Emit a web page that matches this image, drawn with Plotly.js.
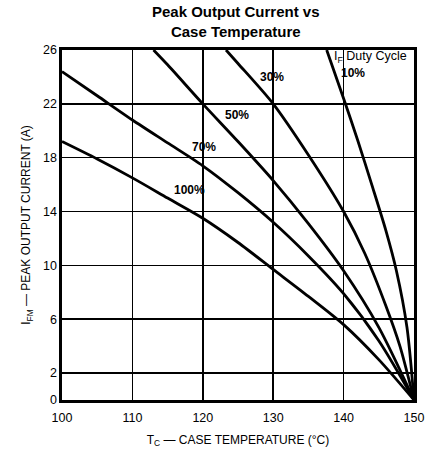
<!DOCTYPE html>
<html>
<head>
<meta charset="utf-8">
<script src="https://cdn.plot.ly/plotly-3.0.1.min.js"></script>
<style>html,body{margin:0;padding:0;background:#fff;}#chart{width:434px;height:450px;}</style>
</head>
<body>
<div id="chart"></div>
<script>
// Case temperature (°C) and peak output current (A) per duty cycle
const t100 = [100, 105, 110, 115, 120, 125, 130, 135, 140, 145, 150];
const i100 = [19.2, 17.9, 16.5, 15.0, 13.5, 11.7, 9.7, 7.7, 5.6, 3.0, 0];
const t70 = [100, 105, 110, 115, 120, 125, 130, 135, 140, 145, 150];
const i70 = [24.4, 22.6, 20.8, 19.1, 17.4, 15.4, 13.2, 10.7, 7.9, 4.4, 0];
const t50 = [113, 115, 120, 125, 130, 135, 140, 145, 150];
const i50 = [26, 24.9, 22, 19.2, 16.3, 13.1, 9.6, 5.4, 0];
const t30 = [123.3, 125, 130, 135, 140, 143, 146, 148, 150];
const i30 = [26, 25, 22, 18.2, 14, 10.9, 7.0, 4.0, 0];
const t10 = [137.6, 140, 142, 144, 146, 147.5, 149, 150];
const i10 = [26, 22.4, 19.3, 16.0, 12.6, 9.6, 5.4, 0];

const xTicks = [100, 110, 120, 130, 140, 150];
const yTicks = [0, 2, 6, 10, 14, 18, 22, 26];

const seriesLabels = ["100%", "70%", "50%", "30%", "10%"];
const labelX = [118.1, 120.1, 124.8, 129.8, 139.4];
const labelY = [15.6, 18.8, 21.2, 24.0, 24.3];

const series = [[t100, i100], [t70, i70], [t50, i50], [t30, i30], [t10, i10]];
const data = series.map(s => ({
  x: s[0], y: s[1], type: 'scatter', mode: 'lines',
  line: {color: '#000', width: 2.8, shape: 'spline', smoothing: 0.8},
  hoverinfo: 'skip', showlegend: false
}));

const font = "Liberation Sans, Arial, sans-serif";
const annotations = seriesLabels.map((txt, k) => ({
  x: labelX[k], y: labelY[k], text: txt, showarrow: false,
  xanchor: k === 4 ? 'left' : 'center', yanchor: 'middle',
  font: {family: font, size: 12, color: '#000', weight: 'bold'}
}));
annotations.push({
  x: 138.3, y: 25.45, text: 'I<sub>F</sub> Duty Cycle', showarrow: false,
  xanchor: 'left', yanchor: 'middle',
  font: {family: font, size: 12.5, color: '#000'}
});
annotations.push({
  xref: 'paper', yref: 'paper', x: 0.494, y: 1, xanchor: 'center', yanchor: 'bottom',
  yshift: 8, showarrow: false,
  text: '<b>Peak Output Current vs<br>Case Temperature</b>',
  font: {family: font, size: 15, color: '#000'}
});

const layout = {
  width: 434, height: 450,
  margin: {l: 62, r: 20, t: 50, b: 50},
  paper_bgcolor: '#fff', plot_bgcolor: '#fff',
  font: {family: font, color: '#000', size: 12},
  xaxis: {
    range: [100, 150], tickvals: xTicks, ticktext: xTicks.map(String),
    showgrid: true, gridcolor: '#000', gridwidth: 1.6,
    showline: true, linecolor: '#000', linewidth: 2.6, mirror: true,
    ticks: '', zeroline: false, ticklabelstandoff: 4,
    tickfont: {family: font, size: 12.5, color: '#000'},
    title: {text: 'T<sub>C</sub> — CASE TEMPERATURE (°C)', standoff: 12,
            font: {family: font, size: 12, color: '#000'}}
  },
  yaxis: {
    range: [0, 26], tickvals: yTicks, ticktext: yTicks.map(String),
    showgrid: true, gridcolor: '#000', gridwidth: 1.6,
    showline: true, linecolor: '#000', linewidth: 2.6, mirror: true,
    ticks: '', zeroline: false,
    tickfont: {family: font, size: 12.5, color: '#000'},
    title: {text: 'I<sub>FM</sub> — PEAK OUTPUT CURRENT (A)', standoff: 10,
            font: {family: font, size: 12, color: '#000'}}
  },
  annotations: annotations
};

Plotly.newPlot('chart', data, layout, {staticPlot: true, displayModeBar: false});
</script>
</body>
</html>
